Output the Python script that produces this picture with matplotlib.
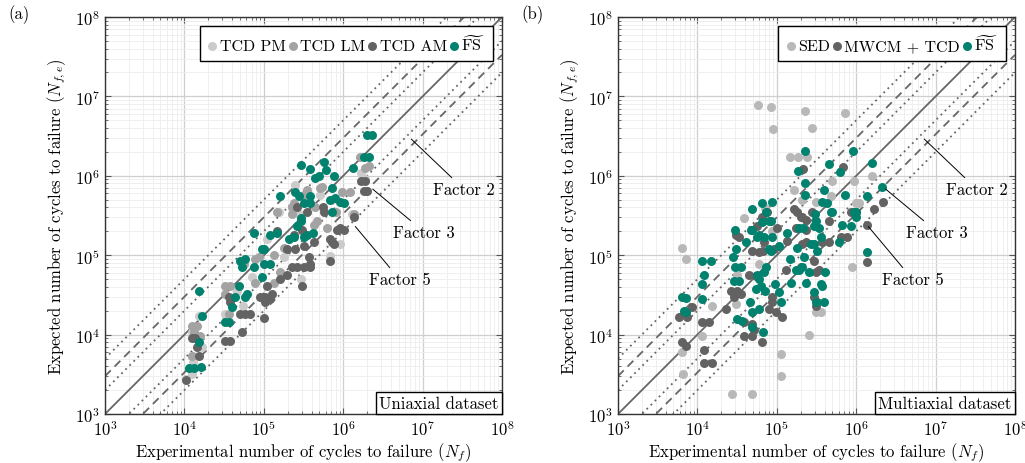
import numpy as np
import matplotlib
matplotlib.use("Agg")
import matplotlib.pyplot as plt
from matplotlib.offsetbox import AnchoredText
from matplotlib.ticker import LogLocator, LogFormatterMathtext, NullFormatter

plt.rcParams['font.family'] = 'cmr10'
plt.rcParams['mathtext.fontset'] = 'cm'
plt.rcParams['axes.unicode_minus'] = False
plt.rcParams['axes.formatter.use_mathtext'] = True

# ---------------- data : (a) uniaxial ----------------
pm_nf = [1.88e6, 1.7e6, 1.55e5, 2.9e5, 6.8e5, 3.2e4, 1.53e4, 1.25e4, 1.67e4, 1.25e4, 1.25e4,
         1.05e4, 2.5e5, 5.1e5, 1.29e6, 2.8e5, 7.2e5, 1.8e5, 7.0e4, 1.1e5, 4.6e4, 9.0e5, 3.0e5,
         5.5e4, 1.3e4]
pm_nfe = [9.0e5, 1.1e6, 3.45e5, 5.0e4, 9.7e4, 1.8e4, 1.7e4, 1.07e4, 7.0e3, 5.4e3, 3.2e3,
          2.75e3, 7.7e5, 5.8e5, 3.3e5, 3.3e5, 5.0e5, 9.4e4, 5.3e4, 1.6e5, 3.5e4, 1.4e5, 2.0e5,
          2.3e4, 4.5e3]

lm_nf = [1.88e6, 2.1e6, 1.63e6, 3.5e5, 3.2e5, 5.4e5, 5.1e5, 1.22e6, 9.7e5, 2.4e5, 2.26e5, 2.26e5,
         4.4e5, 8.1e5, 1.37e6, 4.7e5, 4.3e5, 6.3e5, 1.8e5, 8.7e4, 7.7e4, 1.34e5, 5.6e4, 3.2e4,
         3.75e4, 3.2e4, 7.7e4, 1.6e5, 1.34e5, 3.65e4, 1.25e4, 1.44e4, 1.57e4, 1.25e4, 1.32e4,
         1.47e5, 2.4e5]
lm_nfe = [1.27e6, 1.31e6, 1.74e6, 6.7e5, 5.8e5, 7.3e5, 7.1e5, 6.2e5, 6.3e5, 4.3e5, 4.1e5, 3.3e5,
          4.1e5, 3.5e5, 3.3e5, 2.7e5, 2.4e5, 2.2e5, 1.25e5, 9.4e4, 8.9e4, 1.02e5, 7.7e4, 4.1e4,
          4.1e4, 3.2e4, 4.5e4, 6.1e4, 4.5e4, 1.8e4, 1.3e4, 1.28e4, 9.5e3, 5.4e3, 1.07e4,
          3.5e5, 4.6e5]

am_nf = [1.68e6, 1.88e6, 1.83e6, 2.0e6, 3.5e5, 5.6e5, 5.7e5, 1.37e6, 9.1e5, 1.02e6, 8.4e5, 6.8e5,
         7.2e5, 7.7e5, 4.3e5, 3.2e5, 2.5e5, 1.96e5, 1.47e5, 2.4e5, 3.0e5, 3.7e5, 3.8e5, 3.2e5,
         2.6e5, 2.26e5, 3.8e5, 6.8e5, 3.0e5, 1.96e5, 1.6e5, 1.1e5, 1.27e5, 1.04e5, 9.0e4, 3.75e4,
         3.65e4, 1.04e5, 1.2e5, 5.0e4, 5.8e4, 6.7e4, 1.0e5, 5.3e4, 3.2e4, 3.75e4, 1.25e4, 1.35e4,
         1.53e4, 1.44e4, 1.05e4, 2.6e5]
am_nfe = [8.5e5, 8.7e5, 6.5e5, 6.5e5, 3.5e5, 4.0e5, 3.45e5, 3.0e5, 2.2e5, 2.1e5, 2.1e5, 1.6e5,
          1.45e5, 1.37e5, 1.45e5, 1.3e5, 1.18e5, 1.18e5, 2.0e5, 1.8e5, 2.1e5, 9.4e4, 7.7e4, 7.2e4,
          7.2e4, 7.0e4, 7.0e4, 8.4e4, 4.1e4, 5.7e4, 5.0e4, 4.1e4, 3.2e4, 2.95e4, 2.95e4, 2.6e4,
          2.95e4, 2.6e4, 2.8e4, 1.8e4, 1.8e4, 1.8e4, 1.6e4, 1.07e4, 8.3e3, 8.3e3, 9.0e3, 9.0e3,
          5.4e3, 7.0e3, 2.7e3, 4.1e5]

fsa_nf = [2.3e6, 2.0e6, 1.83e6, 2.1e6, 2.9e5, 3.8e5, 5.7e5, 6.1e5, 7.7e5, 4.4e5, 5.0e5, 1.33e6,
          7.2e5, 1.6e5, 2.5e5, 2.8e5, 3.2e5, 3.8e5, 3.8e5, 6.8e5, 7.9e5, 9.1e5, 1.02e6, 7.2e5,
          2.9e5, 2.9e5, 2.6e5, 3.5e5, 4.2e5, 3.2e5, 2.1e5, 2.4e5, 7.5e4, 1.2e5, 9.5e4, 1.0e5,
          5.0e4, 5.8e4, 5.3e4, 7.5e4, 1.0e5, 1.2e5, 9.5e4, 1.53e4, 4.9e4, 4.3e4, 5.8e4, 6.1e4,
          4.0e4, 1.67e4, 3.2e4, 3.65e4, 1.53e4, 1.14e4, 1.32e4, 1.6e4, 1.47e5]
fsa_nfe = [3.3e6, 3.3e6, 1.74e6, 1.74e6, 1.38e6, 1.23e6, 1.5e6, 1.2e6, 1.0e6, 9.5e5, 9.8e5, 1.27e6,
           7.1e5, 5.5e5, 6.2e5, 5.5e5, 4.6e5, 5.6e5, 4.6e5, 5.0e5, 5.2e5, 4.7e5, 4.6e5, 3.5e5,
           2.9e5, 2.7e5, 2.3e5, 1.8e5, 1.9e5, 1.7e5, 1.6e5, 1.7e5, 1.9e5, 1.8e5, 1.18e5, 1.18e5,
           8.4e4, 8.9e4, 7.2e4, 7.2e4, 7.7e4, 7.7e4, 5.3e4, 3.5e4, 4.1e4, 3.0e4, 3.0e4, 3.2e4,
           2.2e4, 1.7e4, 1.43e4, 1.43e4, 8.0e3, 3.8e3, 3.8e3, 3.9e3, 1.9e5]

# ---------------- data : (b) multiaxial ----------------
sed_nf = [5.8e4, 8.5e4, 2.26e5, 7.2e5, 9.0e4, 2.8e5, 1.47e5, 1.85e5, 2.4e5, 1.58e6, 9.4e5, 5.0e5,
          1.65e5, 2.1e5, 3.1e5, 4.8e5, 9.9e5, 1.08e6, 7.1e4, 3.9e4, 6.4e3, 7.2e3, 1.53e4, 1.14e4,
          6.4e3, 6.6e3, 2.7e4, 4.9e4, 1.13e5, 1.13e5, 2.55e5, 8.9e5, 3.1e5, 3.6e5, 6.0e4, 3.15e4,
          3.06e4, 8.7e4]
sed_nfe = [7.8e6, 7.4e6, 6.6e6, 6.2e6, 3.9e6, 4.0e6, 1.74e6, 1.74e6, 1.74e6, 1.0e6, 8.5e5, 8.7e5,
           6.7e5, 4.9e5, 4.7e5, 5.5e5, 4.6e5, 4.6e5, 3.9e5, 2.9e5, 1.25e5, 8.9e4, 2.3e4, 9.5e3,
           6.0e3, 3.2e3, 1.8e3, 1.8e3, 5.7e3, 3.0e3, 1.0e4, 7.0e4, 1.9e4, 1.9e4, 7.7e4, 5.7e4,
           2.4e4, 2.0e5]

mw_nf = [2.14e5, 6.8e5, 1.65e5, 1.8e5, 2.0e5, 2.3e5, 2.1e5, 7.5e4, 2.2e6, 1.68e6, 1.37e6, 4.5e5,
         8.6e5, 9.9e5, 2.8e5, 6.5e4, 3.06e4, 3.34e4, 5.6e4, 1.0e5, 1.75e5, 2.3e5, 6.4e5, 7.7e5,
         4.5e5, 3.7e5, 2.3e5, 2.1e5, 1.34e5, 9.2e4, 6.9e4, 6.0e4, 6.7e4, 4.9e4, 1.37e6, 2.95e5,
         2.0e5, 1.3e5, 4.5e4, 5.5e4, 3.4e5, 3.1e5, 2.65e4, 3.15e4, 2.9e4, 3.54e4, 8.7e4, 8.7e4,
         8.0e4, 9.8e4, 1.16e5, 2.95e5, 3.2e5, 3.1e5, 8.6e3, 5.9e3, 7.4e3, 1.4e4, 1.14e4, 3.9e4,
         4.9e4, 2.3e4, 5.2e4, 3.9e4, 6.4e3, 7.2e3, 1.21e4, 1.21e4, 1.53e4, 4.9e4, 6.5e4]
mw_nfe = [1.23e6, 1.3e6, 3.8e5, 3.45e5, 3.07e5, 2.8e5, 3.0e5, 3.45e5, 4.7e5, 3.8e5, 2.4e5, 2.66e5,
          3.55e5, 3.55e5, 3.55e5, 3.07e5, 1.8e5, 1.7e5, 2.3e5, 2.2e5, 2.2e5, 2.1e5, 1.7e5, 1.7e5,
          1.45e5, 1.45e5, 1.45e5, 1.37e5, 1.49e5, 1.18e5, 1.45e5, 1.09e5, 1.12e5, 1.12e5, 8.1e4,
          8.4e4, 7.0e4, 6.6e4, 5.7e4, 5.4e4, 6.6e4, 6.1e4, 3.5e4, 3.5e4, 3.0e4, 3.2e4, 3.0e4,
          2.55e4, 2.1e4, 1.9e4, 1.65e4, 3.0e4, 2.6e4, 2.3e4, 2.2e4, 1.65e4, 1.65e4, 1.43e4,
          1.43e4, 1.43e4, 1.37e4, 2.1e4, 1.13e4, 9.5e3, 8.0e3, 7.1e3, 6.4e3, 4.4e3, 4.4e3, 9.5e3,
          8.0e3]

fsb_nf = [2.26e5, 9.1e5, 1.58e6, 4.5e5, 6.25e5, 1.85e5, 2.26e5, 2.1e6, 3.9e5, 1.37e6, 8.7e4,
          3.7e5, 4.9e4, 7.3e4, 8.0e4, 3.0e4, 4.9e4, 6.0e4, 5.6e4, 8.7e4, 3.06e4, 2.8e4, 1.34e5,
          3.0e5, 3.1e5, 2.95e5, 3.4e5, 5.0e5, 1.8e5, 2.7e5, 2.95e5, 3.6e5, 6.6e5, 8.6e5, 9.9e5,
          9.4e5, 1.0e6, 3.2e5, 6.1e5, 1.37e6, 1.14e4, 1.48e4, 8.0e4, 4.1e4, 2.2e5, 3.0e4, 3.54e4,
          5.6e4, 6.9e4, 7.3e4, 6.0e4, 6.3e4, 5.5e4, 7.1e4, 3.34e4, 2.9e4, 1.21e4, 1.14e4, 9.5e4,
          1.07e5, 1.5e5, 1.75e5, 2.1e5, 2.55e5, 2.3e5, 4.0e5, 3.7e5, 2.95e5, 3.1e5, 1.13e5,
          4.6e4, 6.4e3, 7.2e3, 6.8e3, 7.2e3, 3.15e4, 3.65e4, 4.9e4, 6.0e4, 4.9e4, 6.7e4, 1.14e4,
          1.47e5, 1.9e5, 3.6e5, 3.9e5, 8.5e4, 1.07e5, 6.9e4, 6.5e4, 4.3e5, 4.8e5, 1.9e5, 8.5e4,
          6.5e4, 4.7e4, 2.14e5, 2.26e5, 7.2e5]
fsb_nfe = [2.07e6, 2.07e6, 1.47e6, 1.42e6, 1.13e6, 1.16e6, 8.2e5, 7.3e5, 6.7e5, 5.5e5, 4.7e5,
           4.7e5, 3.8e5, 3.55e5, 2.66e5, 2.1e5, 2.05e5, 1.8e5, 1.7e5, 1.7e5, 1.18e5, 9.4e4, 1.9e5,
           3.3e5, 2.66e5, 2.3e5, 2.2e5, 3.55e5, 1.25e5, 1.37e5, 1.4e5, 1.7e5, 2.4e5, 2.3e5, 3.07e5,
           3.45e5, 3.45e5, 1.12e5, 1.45e5, 1.09e5, 8.4e4, 8.4e4, 1.18e5, 1.45e5, 9.4e4, 7.2e4,
           7.2e4, 5.7e4, 6.1e4, 7.0e4, 5.0e4, 4.1e4, 3.7e4, 3.5e4, 4.7e4, 4.7e4, 5.6e4, 4.3e4,
           4.3e4, 3.4e4, 4.5e4, 6.6e4, 7.0e4, 6.1e4, 4.5e4, 6.1e4, 4.1e4, 3.4e4, 2.55e4, 2.55e4,
           2.55e4, 3.0e4, 2.85e4, 2.0e4, 1.9e4, 1.56e4, 1.48e4, 1.9e4, 2.1e4, 1.24e4, 1.07e4,
           2.8e4, 8.9e4, 6.6e4, 4.3e4, 2.55e4, 1.12e5, 1.3e5, 1.7e5, 4.6e5, 4.5e5, 3.55e5, 2.2e5,
           2.66e5, 2.6e5, 2.1e5, 2.2e5, 5.8e5, 5.8e5]

factors = [2, 3, 5]
factor_styles = {1: '-', 2: (0, (1, 2.2)), 3: (0, (4.5, 3)), 5: (0, (1, 2.2))}

# annotation anchors (point on line, text centre) for each factor
annot = {2: ((7.2e6, 2.9e6), (3.3e7, 6.8e5)),
         3: ((2.35e6, 6.8e5), (1.05e7, 1.96e5)),
         5: ((1.42e6, 2.3e5), (5.1e6, 5.0e4))}

c_pm, c_lm, c_am = '#cbcbcb', '#a3a3a3', '#636363'
c_sed, c_mw, c_fs = '#b8b8b8', '#626262', '#00826f'
fs = 12

fig = plt.figure(figsize=(10.25, 4.64), dpi=100)
ax1 = fig.add_axes([105 / 1025, 49 / 464, 397 / 1025, 397 / 464])
ax2 = fig.add_axes([618 / 1025, 49 / 464, 397 / 1025, 397 / 464])


def setup(ax):
    ax.set_xscale('log')
    ax.set_yscale('log')
    ax.set_xlim(1e3, 1e8)
    ax.set_ylim(1e3, 1e8)
    for axis in (ax.xaxis, ax.yaxis):
        axis.set_major_locator(LogLocator(base=10, numticks=10))
        axis.set_minor_locator(LogLocator(base=10, subs=np.arange(2, 10), numticks=20))
        axis.set_major_formatter(LogFormatterMathtext())
        axis.set_minor_formatter(NullFormatter())
    ax.grid(which='major', color='#cfcfcf', lw=0.9, zorder=0)
    ax.grid(which='minor', color='#ededed', lw=0.6, zorder=0)
    ax.set_axisbelow(True)
    ax.tick_params(which='both', direction='in', top=True, right=True, color='#555555',
                   labelsize=fs)
    ax.tick_params(which='major', length=4.5, width=0.8)
    ax.tick_params(which='minor', length=2.5, width=0.6)
    for s in ax.spines.values():
        s.set_color('#333333')
        s.set_linewidth(1.0)
    ax.set_xlabel(r'Experimental number of cycles to failure ($N_f$)', fontsize=fs, labelpad=1.5)
    ax.set_ylabel(r'Expected number of cycles to failure ($N_{f,e}$)', fontsize=fs, labelpad=5)

    xs = np.array([1e3, 1e8])
    ax.plot(xs, xs, color='#666666', lw=1.3, ls=factor_styles[1], zorder=2)
    for f in factors:
        for y in (xs * f, xs / f):
            ax.plot(xs, y, color='#666666', lw=1.3, ls=factor_styles[f], zorder=2)
    for f in factors:
        xy, xyt = annot[f]
        ax.annotate('Factor %d' % f, xy=xy, xytext=xyt, ha='center', va='center', fontsize=fs,
                    arrowprops=dict(arrowstyle='-', color='black', lw=0.7, shrinkA=1, shrinkB=0),
                    zorder=5)


setup(ax1)
setup(ax2)

ms = 42
ax1.scatter(pm_nf, pm_nfe, s=ms, color=c_pm, lw=0, zorder=3, label='TCD PM')
ax1.scatter(lm_nf, lm_nfe, s=ms, color=c_lm, lw=0, zorder=3, label='TCD LM')
ax1.scatter(am_nf, am_nfe, s=ms, color=c_am, lw=0, zorder=3, label='TCD AM')
ax1.scatter(fsa_nf, fsa_nfe, s=ms, color=c_fs, lw=0, zorder=3, label=r'$\widetilde{\mathrm{FS}}$')

ax2.scatter(sed_nf, sed_nfe, s=ms, color=c_sed, lw=0, zorder=3, label='SED')
ax2.scatter(mw_nf, mw_nfe, s=ms, color=c_mw, lw=0, zorder=3, label='MWCM + TCD')
ax2.scatter(fsb_nf, fsb_nfe, s=ms, color=c_fs, lw=0, zorder=3, label=r'$\widetilde{\mathrm{FS}}$')

for ax, n in ((ax1, 4), (ax2, 3)):
    leg = ax.legend(loc='upper right', ncol=n, fontsize=11.5, handletextpad=0.15,
                    columnspacing=0.15, handlelength=0.6, borderpad=0.5, borderaxespad=0.55,
                    fancybox=False, framealpha=1, edgecolor='black', scatterpoints=1)
    leg.get_frame().set_linewidth(1.0)
    leg.set_zorder(6)

for ax, txt in ((ax1, 'Uniaxial dataset'), (ax2, 'Multiaxial dataset')):
    at = AnchoredText(txt, loc='lower right', prop=dict(size=fs), pad=0.2, borderpad=0.0,
                      frameon=True)
    at.patch.set_boxstyle('square,pad=0')
    at.patch.set_edgecolor('black')
    at.patch.set_linewidth(1.0)
    at.set_zorder(6)
    ax.add_artist(at)

fig.text(8 / 1025, 1 - 15 / 464, '(a)', fontsize=fs, va='center')
fig.text(521 / 1025, 1 - 15 / 464, '(b)', fontsize=fs, va='center')

fig.savefig('out.png', dpi=100)
